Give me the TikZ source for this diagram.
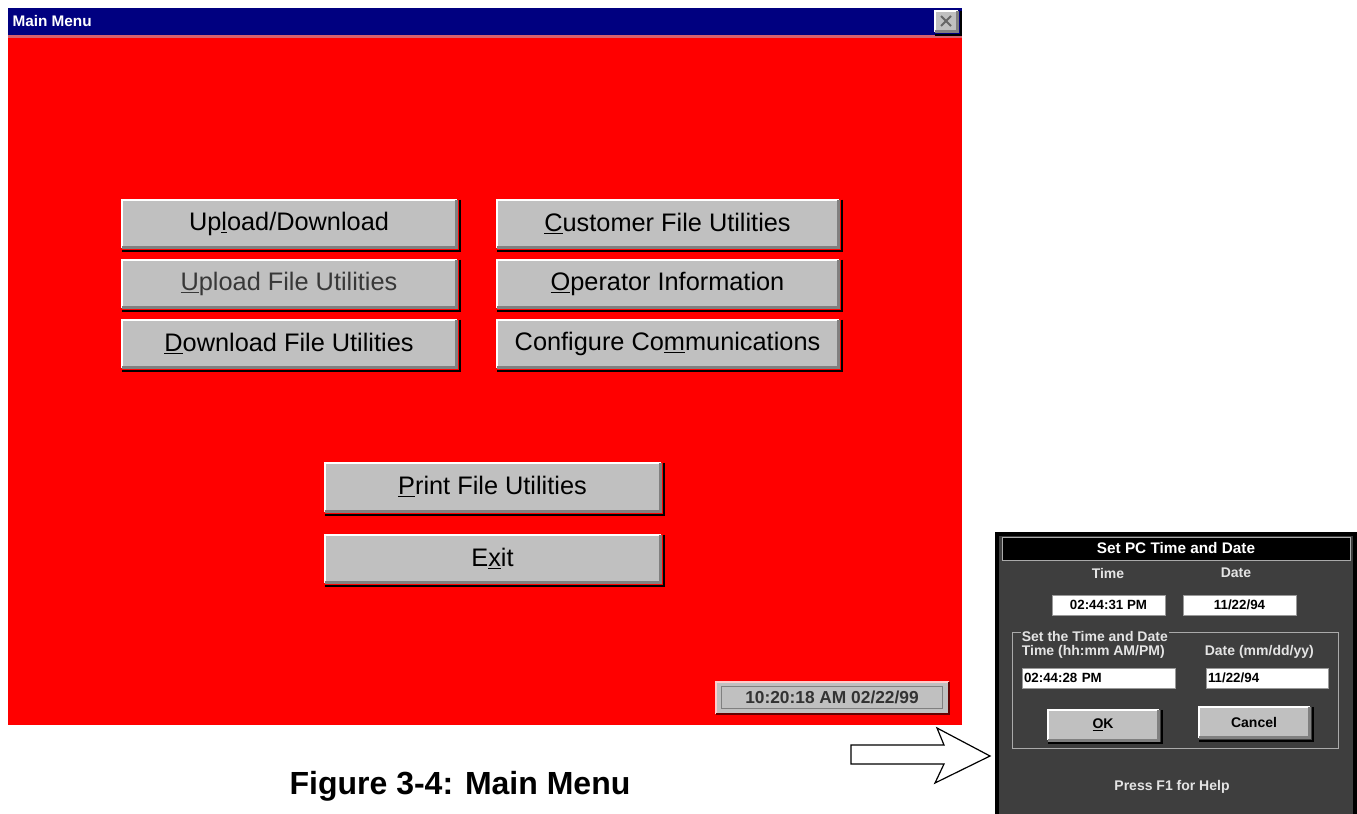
\documentclass[tikz,border=0pt]{standalone}
\usepackage{fontspec}
\setmainfont{Liberation Sans}
\usetikzlibrary{calc}

\definecolor{winred}{RGB}{255,0,0}
\definecolor{winnavy}{RGB}{0,0,128}
\definecolor{winseam}{RGB}{214,96,110}
\definecolor{btngray}{RGB}{192,192,192}
\definecolor{btnshade}{RGB}{128,128,128}
\definecolor{dlggray}{RGB}{62,62,62}
\definecolor{dlgtext}{RGB}{228,228,228}
\definecolor{grpline}{RGB}{170,170,170}

\tikzset{every picture/.style={line width=0.75pt}}
\tikzset{
  menubtn/.style={fill=btngray, inner sep=0pt, minimum width=250.5pt, minimum height=35.25pt,
    font=\fontsize{19}{19}\selectfont},
  widebtn/.style={menubtn, minimum width=255.75pt},
  dlgbtn/.style={fill=btngray, inner sep=0pt, minimum width=82.5pt, minimum height=22pt,
    font=\fontsize{10.5}{10.5}\selectfont\bfseries},
  dlglabel/.style={text=dlgtext, inner sep=1pt, font=\fontsize{10.5}{10.5}\selectfont\bfseries},
  field/.style={fill=white, draw=black!40, inner sep=0pt, minimum width=84.75pt, minimum height=15pt,
    font=\fontsize{10}{10}\selectfont\bfseries},
  entry/.style={fill=white, draw=black!40, inner xsep=1.5pt, inner ysep=0pt, minimum height=15pt,
    align=left, font=\fontsize{10}{10}\selectfont\bfseries}
}

% raised Windows 3.x button edges round a node
\newcommand{\winbevel}[1]{%
  \draw[white, line width=1.5pt] (#1.south west) -- (#1.north west) -- (#1.north east);
  \draw[btnshade, line width=2.5pt] (#1.north east) -- (#1.south east) -- (#1.south west);
  \draw[black, line width=1.5pt] ($(#1.north east)+(3,0)$) -- ($(#1.south east)+(3,3)$) -- ($(#1.south west)+(0,3)$);
}

\begin{document}
\begin{tikzpicture}[x=0.75pt,y=0.75pt,yscale=-1,xscale=1]
\useasboundingbox (0,0) rectangle (1357,814);

%Shape: Rectangle (window title bar)
\fill[winnavy] (8,8) rectangle (962,35);
\fill[winseam] (8,35) rectangle (962,37.5);
%Shape: Rectangle (window body)
\fill[winred] (8,37.5) rectangle (962,725);

% Text Node
\node[anchor=west, inner sep=0pt, text=white, font=\fontsize{11.5}{11.5}\selectfont\bfseries] (wintitle) at (12,21) {Main Menu};
% close box
\node[fill=btngray, inner sep=0pt, minimum width=16.5pt, minimum height=15pt] (winclose) at (946,21) {};
\winbevel{winclose}
\draw[black!60, line width=1.5pt] ($(winclose.center)+(-5,-5)$) -- ($(winclose.center)+(5,5)$);
\draw[black!60, line width=1.5pt] ($(winclose.center)+(-5,5)$) -- ($(winclose.center)+(5,-5)$);

% menu buttons
\node[menubtn] (updown) at (289,223.5) {Up\underline{l}oad/Download};
\node[menubtn, text=black!78] (upfile) at (289,283.5) {\underline{U}pload File Utilities};
\node[menubtn] (downfile) at (289,343.5) {\underline{D}ownload File Utilities};
\node[widebtn] (custfile) at (667.5,223.5) {\underline{C}ustomer File Utilities};
\node[widebtn] (operinfo) at (667.5,283.5) {\underline{O}perator Information};
\node[widebtn] (configcomm) at (667.5,343.5) {Configure Co\underline{m}munications};
\node[menubtn, minimum width=251.25pt, minimum height=36pt] (printfile) at (492.5,487) {\underline{P}rint File Utilities};
\node[menubtn, minimum width=251.25pt] (exitbtn) at (492.5,558.5) {E\underline{x}it};
\foreach \b in {updown,upfile,downfile,custfile,operinfo,configcomm,printfile,exitbtn}
  {\winbevel{\b}}

% clock
\node[fill=btngray, inner sep=0pt, minimum width=174pt, minimum height=23.25pt, text=black!80,
  font=\fontsize{13}{13}\selectfont\bfseries] (clock) at (832,697.5) {10:20:18 AM 02/22/99};
\draw[white!80!red, line width=1.5pt] (clock.south west) -- (clock.north west) -- (clock.north east);
\draw[black!60!red, line width=1.5pt] (clock.north east) -- (clock.south east) -- (clock.south west);
\draw[btnshade] ($(clock.south west)+(6,-5)$) rectangle ($(clock.north east)+(-6,5)$);

% Text Node
\node[font=\fontsize{24}{24}\selectfont\bfseries] (caption) at (460,786) {Figure 3-4: Main Menu};

%Shape: Right Arrow
\draw[fill=white, line width=0.9pt] (851,745) -- (944,745) -- (937,728) -- (990,756) -- (935,783) -- (944,764) -- (851,764) -- cycle;

%Shape: Rectangle (dialog)
\draw[fill=dlggray, line width=3pt] (997,533.5) rectangle (1355,816);
\node[fill=black, draw=grpline, minimum width=261pt, minimum height=17.25pt, inner sep=0pt,
  text=white, font=\fontsize{11.5}{11.5}\selectfont\bfseries] (dlgbar) at (1176,548.5) {Set PC Time and Date};

\node[dlglabel] (timehead) at (1108,573) {Time};
\node[dlglabel] (datehead) at (1236,573) {Date};
\node[field] (timenow) at (1108.5,605) {02:44:31 PM};
\node[field] (datenow) at (1239.5,605) {11/22/94};

%Shape: Rectangle (group box)
\draw[grpline] (1012,632) rectangle (1338,748);
\node[dlglabel, fill=dlggray, anchor=west] (grplabel) at (1020,636) {Set the Time and Date};
\node[dlglabel, anchor=west] (timefmt) at (1020,652) {Time (hh:mm AM/PM)};
\node[dlglabel, anchor=west] (datefmt) at (1203,652) {Date (mm/dd/yy)};
\node[entry, text width=111.75pt] (timeset) at (1098.5,678) {02:44:28 PM};
\node[entry, text width=88.5pt] (dateset) at (1267,678) {11/22/94};

\node[dlgbtn] (okbtn) at (1103,725) {\underline{O}K};
\node[dlgbtn] (cancelbtn) at (1254,722.5) {Cancel};
\winbevel{okbtn}
\winbevel{cancelbtn}

\node[dlglabel] (helpline) at (1172,787) {Press F1 for Help};

\end{tikzpicture}
\end{document}
